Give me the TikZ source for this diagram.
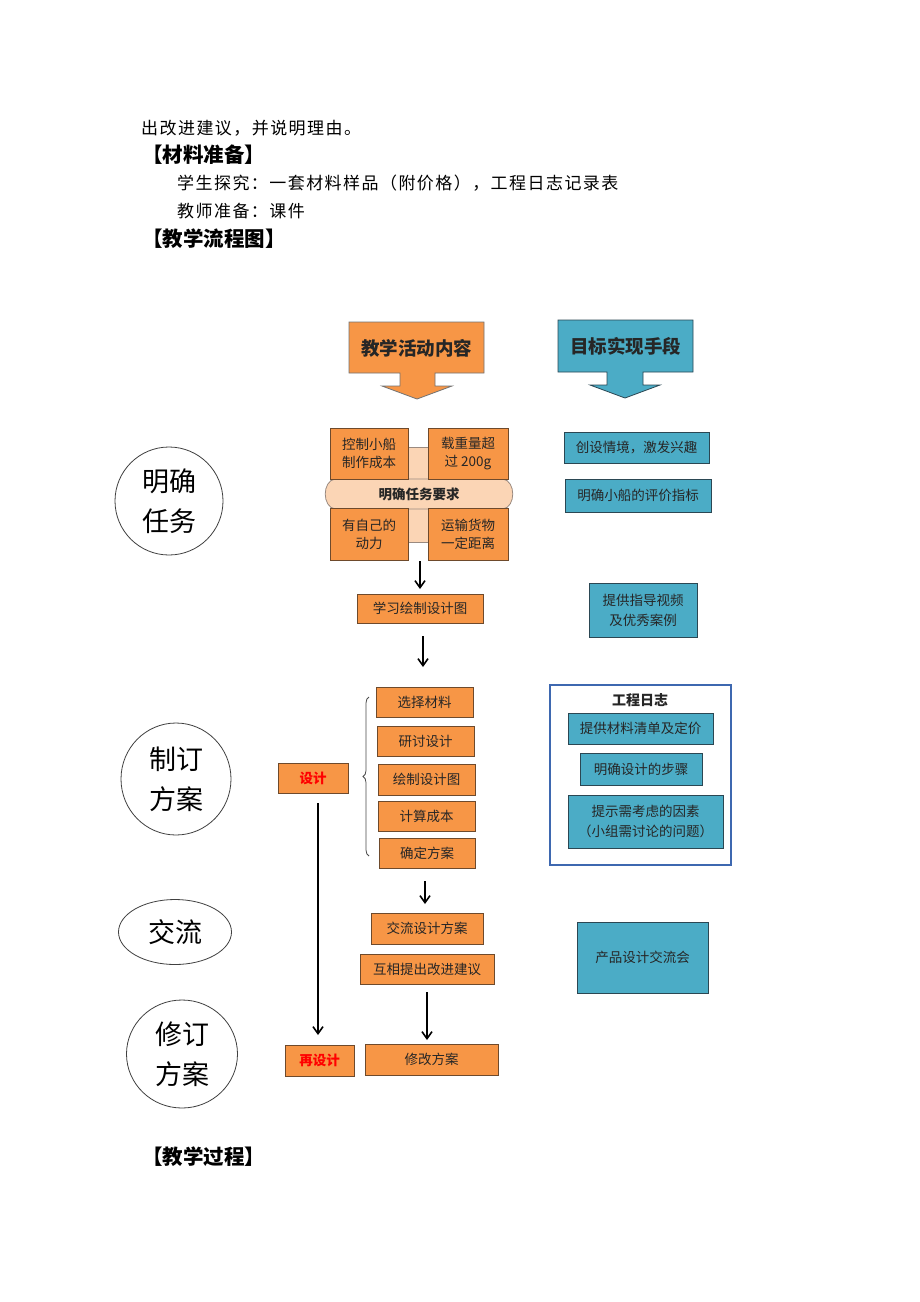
\documentclass[tikz,border=0pt]{standalone}
\usepackage{fontspec}
\setmainfont{Noto Sans CJK SC}
\usetikzlibrary{arrows.meta,shapes.geometric,decorations.pathreplacing}
\definecolor{orf}{HTML}{F79646}
\definecolor{ord}{HTML}{6E4A2C}
\definecolor{tef}{HTML}{4BACC6}
\definecolor{ted}{HTML}{2B4753}
\definecolor{pea}{HTML}{FBD5B5}
\definecolor{pead}{HTML}{9A8A80}
\definecolor{frb}{HTML}{3E68B0}
\definecolor{txt}{HTML}{262626}
\newcommand\bx[7]{%
  \pgfmathsetmacro\bw{#5-#3}\pgfmathsetmacro\bh{#6-#4}%
  \node[#2,minimum width=\bw pt,minimum height=\bh pt] (#1) at ({(#3+#5)/2},{(#4+#6)/2}) {#7};}
\begin{document}
\begin{tikzpicture}[x=1pt,y=-1pt,
  ob/.style={draw=ord,fill=orf,line width=0.9pt,inner sep=0pt,align=center,text=txt,font=\fontsize{13.5}{18}\selectfont},
  tb/.style={draw=ted,fill=tef,line width=0.9pt,inner sep=0pt,align=center,text=txt,font=\fontsize{13.5}{20}\selectfont},
  ph/.style={draw=black!75,line width=0.8pt,inner sep=0pt,align=center,font=\fontsize{27}{40}\selectfont},
  arr/.style={-{Straight Barb[length=7pt,width=10pt]},line width=1.6pt},
  body/.style={anchor=west,inner sep=0pt,font=\fontsize{17}{20}\selectfont\addfontfeature{LetterSpace=8.5}},
  head/.style={anchor=west,inner sep=0pt,font=\fontsize{20.5}{22}\selectfont\bfseries}]
\useasboundingbox[fill=white] (0,0) rectangle (920,1302);

% page text
\node[body] (t1) at (141,128) {出改进建议，并说明理由。};
\node[head] (t2) at (142,155) {【材料准备】};
\node[body] (t3) at (177,183) {学生探究：一套材料样品（附价格），工程日志记录表};
\node[body] (t4) at (177,211) {教师准备：课件};
\node[head] (t5) at (142,239) {【教学流程图】};
\node[head] (t6) at (142,1157) {【教学过程】};

% header arrows
\draw[fill=orf,draw=black!55,line width=0.8pt] (349,322) -- (484,322) -- (484,373) -- (435,373) -- (435,386) -- (452,386) -- (417,399) -- (382,386) -- (400,386) -- (400,373) -- (349,373) -- cycle;
\node[font=\fontsize{18.5}{22}\selectfont\bfseries,text=txt] (h1) at (416.5,348) {教学活动内容};
\draw[fill=tef,draw=ted,line width=0.8pt] (558,320) -- (693,320) -- (693,372) -- (643,372) -- (643,385) -- (660,385) -- (625,398) -- (590,385) -- (607,385) -- (607,372) -- (558,372) -- cycle;
\node[font=\fontsize{18.5}{22}\selectfont\bfseries,text=txt] (h2) at (625.5,346) {目标实现手段};

% phase circles
\node[ph,ellipse,minimum width=108pt,minimum height=108pt] (p1) at (169,501) {明确\\任务};
\node[ph,ellipse,minimum width=110pt,minimum height=112pt] (p2) at (176,779) {制订\\方案};
\node[ph,ellipse,minimum width=113pt,minimum height=65pt] (p3) at (175,932) {交流};
\node[ph,ellipse,minimum width=111pt,minimum height=108pt] (p4) at (182,1054) {修订\\方案};

% task cluster
\draw[fill=pea,draw=pead,line width=0.8pt] (408,447) rectangle (428,542);
\draw[fill=pea,draw=pead,line width=0.8pt] (335,479) -- (503,479) .. controls (516,481) and (516,507) .. (503,509) -- (335,509) .. controls (322,507) and (322,481) .. (335,479) -- cycle;
\node[font=\fontsize{13.5}{16}\selectfont\bfseries,text=txt] (band) at (419,494) {明确任务要求};
\bx{k1}{ob}{330}{428}{408}{479}{控制小船\\制作成本}
\bx{k2}{ob}{428}{428}{508}{479}{载重量超\\过 200g}
\bx{k3}{ob}{330}{508}{408}{560}{有自己的\\动力}
\bx{k4}{ob}{428}{508}{508}{560}{运输货物\\一定距离}

\bx{learn}{ob}{357}{594}{483}{623}{学习绘制设计图}

% right column
\bx{r1}{tb}{564}{432}{709}{463}{创设情境，激发兴趣}
\bx{r2}{tb}{565}{479}{711}{512}{明确小船的评价指标}
\bx{r3}{tb}{589}{583}{697}{637}{提供指导视频\\及优秀案例}

% design
\bx{design}{ob}{278}{763}{348}{793}{\color{red}\bfseries 设计}
\bx{s1}{ob}{376}{687}{473}{717}{选择材料}
\bx{s2}{ob}{377}{726}{474}{756}{研讨设计}
\bx{s3}{ob}{378}{764}{475}{795}{绘制设计图}
\bx{s4}{ob}{378}{801}{475}{831}{计算成本}
\bx{s5}{ob}{379}{838}{475}{868}{确定方案}
\draw[decorate,decoration={brace,amplitude=6pt},draw=black!70,line width=0.8pt] (369,856) -- (369,697);

% engineering log
\draw[draw=frb,line width=2.5pt] (550,685) rectangle (731,865);
\node[font=\fontsize{14}{16}\selectfont\bfseries,text=txt] (logt) at (640,700) {工程日志};
\bx{g1}{tb}{568}{713}{713}{744}{提供材料清单及定价}
\bx{g2}{tb}{580}{753}{702}{785}{明确设计的步骤}
\bx{g3}{tb}{568}{795}{723}{848}{提示需考虑的因素\\（小组需讨论的问题）}

% exchange
\bx{e1}{ob}{371}{913}{483}{944}{交流设计方案}
\bx{e2}{ob}{360}{954}{494}{984}{互相提出改进建议}
\bx{ex}{tb}{577}{922}{708}{993}{产品设计交流会}

% revise
\bx{redesign}{ob}{285}{1045}{354}{1076}{\color{red}\bfseries 再设计}
\bx{mod}{ob}{365}{1044}{498}{1075}{修改方案}

% connectors
\coordinate (a1s) at (420,561);
\coordinate (a1e) at (420,589);
\draw[arr] (a1s) -- (a1e);
\coordinate (a2s) at (423,636);
\coordinate (a2e) at (423,667);
\draw[arr] (a2s) -- (a2e);
\coordinate (a3s) at (318,803);
\coordinate (a3e) at (318,1035);
\draw[arr] (a3s) -- (a3e);
\coordinate (a4s) at (425,881);
\coordinate (a4e) at (425,904);
\draw[arr] (a4s) -- (a4e);
\coordinate (a5s) at (427,992);
\coordinate (a5e) at (427,1040);
\draw[arr] (a5s) -- (a5e);
\end{tikzpicture}
\end{document}
